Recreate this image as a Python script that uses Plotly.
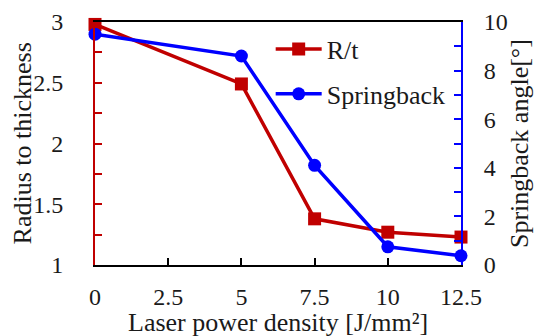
import plotly.graph_objects as go

x_vals = [0, 5, 7.5, 10, 12.5]
rt_vals = [2.98, 2.49, 1.38, 1.27, 1.23]
spring_vals = [9.5, 8.6, 4.1, 0.75, 0.38]

x_ticks = [0, 2.5, 5, 7.5, 10, 12.5]
x_ticktext = ["0", "2.5", "5", "7.5", "10", "12.5"]
y_ticks = [1, 1.5, 2, 2.5, 3]
y_ticktext = ["1", "1.5", "2", "2.5", "3"]
y2_ticks = [0, 2, 4, 6, 8, 10]

RED = "#C00000"
BLUE = "#0000FF"
FONT = "Liberation Serif"
TXT = "#1a1a1a"

fig = go.Figure()
fig.add_trace(go.Scatter(x=x_vals, y=rt_vals, name="R/t", mode="lines+markers",
                         legendgroup="a",
                         line=dict(color=RED, width=3.5),
                         marker=dict(symbol="square", size=13, color=RED),
                         cliponaxis=False))
fig.add_trace(go.Scatter(x=x_vals, y=spring_vals, name="Springback", mode="lines+markers",
                         legendgroup="b",
                         line=dict(color=BLUE, width=3.5),
                         marker=dict(symbol="circle", size=13, color=BLUE),
                         yaxis="y2", cliponaxis=False))

fig.update_layout(
    width=534, height=336,
    margin=dict(l=95, r=73, t=22, b=71),
    paper_bgcolor="white", plot_bgcolor="white",
    font=dict(family=FONT, size=24, color=TXT),
    showlegend=True,
    legend=dict(x=0.48, y=0.985, xanchor="left", yanchor="top",
                bgcolor="rgba(0,0,0,0)", font=dict(size=26, family=FONT, color=TXT),
                tracegroupgap=8, itemwidth=46),
    xaxis=dict(range=[0, 12.5], tickvals=x_ticks, ticktext=x_ticktext,
               ticks="inside", ticklen=7, tickcolor="black", tickwidth=1.5,
               ticklabelstandoff=9,
               showline=True, linecolor="black", linewidth=2, mirror=True,
               showgrid=False, zeroline=False, automargin=False),
    yaxis=dict(range=[1, 3], tickvals=y_ticks, ticktext=y_ticktext,
               ticks="inside", ticklen=7, tickcolor=RED, tickwidth=1.5,
               ticklabelstandoff=25,
               minor=dict(dtick=0.25, ticks="inside", ticklen=7, tickcolor=RED, tickwidth=1.5, showgrid=False),
               showline=True, linecolor=RED, linewidth=2,
               showgrid=False, zeroline=False, automargin=False),
    yaxis2=dict(range=[0, 10], overlaying="y", side="right",
                tickvals=y2_ticks,
                ticks="inside", ticklen=7, tickcolor=BLUE, tickwidth=1.5,
                ticklabelstandoff=16,
                minor=dict(dtick=1, ticks="inside", ticklen=7, tickcolor=BLUE, tickwidth=1.5, showgrid=False),
                showline=True, linecolor=BLUE, linewidth=2,
                showgrid=False, zeroline=False, automargin=False),
    annotations=[
        dict(text="Laser power density [J/mm²]", xref="paper", yref="paper",
             x=0.5, y=-0.235, xanchor="center", yanchor="middle", showarrow=False,
             font=dict(size=26, family=FONT, color=TXT)),
        dict(text="Radius to thickness", xref="paper", yref="paper",
             x=-0.197, y=0.5, xanchor="center", yanchor="middle", textangle=-90, showarrow=False,
             font=dict(size=26, family=FONT, color=TXT)),
        dict(text="Springback angle[°]", xref="paper", yref="paper",
             x=1.16, y=0.5, xanchor="center", yanchor="middle", textangle=-90, showarrow=False,
             font=dict(size=26, family=FONT, color=TXT)),
    ],
)

fig.write_html("out.html", config={"displayModeBar": False},
               post_script="document.body.style.margin='0';document.body.style.overflow='hidden';")
